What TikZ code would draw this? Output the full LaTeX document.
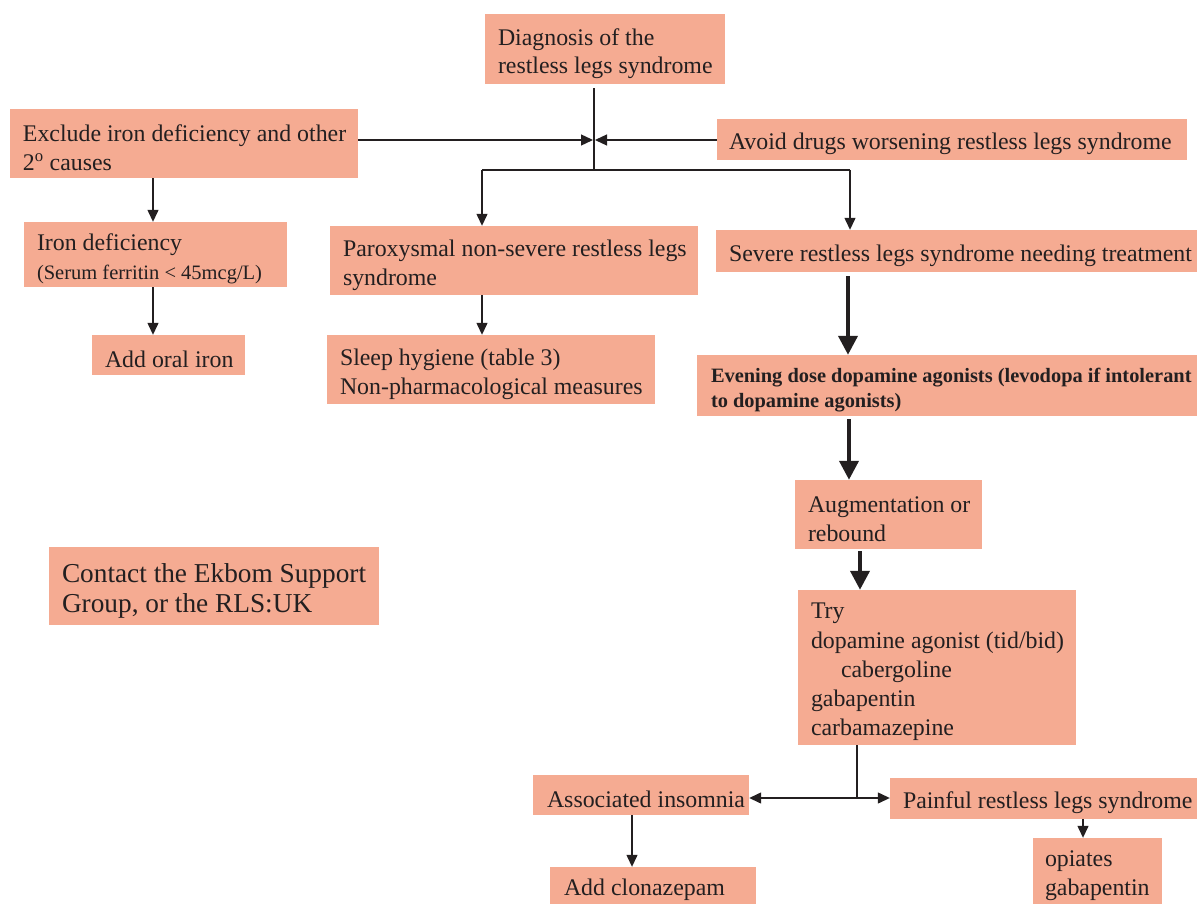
\documentclass[tikz,border=0pt]{standalone}
\usepackage{fontspec}
\setmainfont{Liberation Serif}
\usetikzlibrary{arrows.meta}
\definecolor{boxfill}{RGB}{245,171,146}
\definecolor{ink}{RGB}{35,31,32}
\begin{document}
\begin{tikzpicture}[x=1pt,y=-1pt,
  box/.style={fill=boxfill, draw=none, inner sep=0pt},
  txt/.style={anchor=west, align=left, inner sep=0pt, yshift=-4.5pt, text=ink, font=\fontsize{23.85}{28.6}\selectfont},
  conn/.style={draw=ink, line width=1.3pt},
  arr/.style={conn, -{Triangle[length=12pt,width=11pt]}},
  bigarr/.style={draw=ink, line width=4pt, -{Triangle[length=19pt,width=19pt]}}]
\useasboundingbox (0,0) rectangle (1197,904);

% boxes
\node[box, minimum width=240pt, minimum height=70pt] (diag) at (605,49) {};
\node[txt] at ([xshift=13pt]diag.west) {Diagnosis of the\\restless legs syndrome};

\node[box, minimum width=348pt, minimum height=69pt] (excl) at (184,143.5) {};
\node[txt] at ([xshift=13pt]excl.west) {Exclude iron deficiency and other\\2\textsuperscript{o} causes};

\node[box, minimum width=470pt, minimum height=41pt] (avoid) at (952,139.5) {};
\node[txt] at ([xshift=12pt]avoid.west) {Avoid drugs worsening restless legs syndrome};

\node[box, minimum width=263pt, minimum height=65pt] (iron) at (155.5,254.5) {};
\node[txt] at ([xshift=13pt]iron.west) {Iron deficiency\\{\fontsize{20.5}{24}\selectfont (Serum ferritin < 45mcg/L)}};

\node[box, minimum width=153pt, minimum height=40pt] (oral) at (168.5,355) {};
\node[txt] at ([xshift=13pt]oral.west) {Add oral iron};

\node[box, minimum width=368pt, minimum height=69pt] (parox) at (514,260.5) {};
\node[txt] at ([xshift=13pt]parox.west) {Paroxysmal non-severe restless legs\\syndrome};

\node[box, minimum width=481pt, minimum height=42pt] (sev) at (956.5,251) {};
\node[txt] at ([xshift=13pt]sev.west) {Severe restless legs syndrome needing treatment};

\node[box, minimum width=328pt, minimum height=69pt] (sleep) at (491,369.5) {};
\node[txt] at ([xshift=13pt]sleep.west) {Sleep hygiene (table 3)\\Non-pharmacological measures};

\node[box, minimum width=500pt, minimum height=61pt] (even) at (947,385.5) {};
\node[txt, font=\bfseries\fontsize{20.4}{25}\selectfont] at ([xshift=14pt]even.west) {Evening dose dopamine agonists (levodopa if intolerant\\to dopamine agonists)};

\node[box, minimum width=187pt, minimum height=69pt] (aug) at (888.5,514.5) {};
\node[txt] at ([xshift=13pt]aug.west) {Augmentation or\\rebound};

\node[box, minimum width=330pt, minimum height=78pt] (contact) at (214,586) {};
\node[txt, font=\fontsize{27.3}{30}\selectfont] at ([xshift=13pt]contact.west) {Contact the Ekbom Support\\Group, or the RLS:UK};

\node[box, minimum width=278pt, minimum height=155pt] (try) at (937,667.5) {};
\node[txt, font=\fontsize{23.85}{29.2}\selectfont] at ([xshift=13pt]try.west) {Try\\dopamine agonist (tid/bid)\\\hspace*{30pt}cabergoline\\gabapentin\\carbamazepine};

\node[box, minimum width=216pt, minimum height=40pt] (insom) at (641,795) {};
\node[txt] at ([xshift=14pt]insom.west) {Associated insomnia};

\node[box, minimum width=307pt, minimum height=41pt] (pain) at (1043.5,798.5) {};
\node[txt] at ([xshift=13pt]pain.west) {Painful restless legs syndrome};

\node[box, minimum width=206pt, minimum height=37pt] (clon) at (653,885.5) {};
\node[txt] at ([xshift=14pt]clon.west) {Add clonazepam};

\node[box, minimum width=129pt, minimum height=66pt] (opi) at (1097.5,871) {};
\node[txt] at ([xshift=12pt]opi.west) {opiates\\gabapentin};

% junction coordinates
\coordinate (jc) at (594,170);
\coordinate (jl) at (482,170);
\coordinate (jr) at (850,170);
\coordinate (jm) at (594,140);
\coordinate (xa) at (153,0);
\coordinate (xb) at (482,0);
\coordinate (xc) at (848,0);
\coordinate (xd) at (849,0);
\coordinate (xe) at (860,0);
\coordinate (xf) at (857,0);
\coordinate (jb) at (857,798);
\coordinate (xg) at (632,0);
\coordinate (xh) at (1083,0);

% connectors
\draw[conn] ([yshift=-4pt]jc |- diag.south) -- (jc);
\draw[conn] (jl) -- (jr);
\draw[arr] (excl.east |- jm) -- ([xshift=-1pt]jm);
\draw[arr] (avoid.west |- jm) -- ([xshift=1pt]jm);
\draw[arr] (jl) -- (jl |- parox.north);
\draw[arr] (jr) -- (jr |- sev.north);
\draw[arr] (excl.south -| xa) -- (iron.north -| xa);
\draw[arr] (iron.south -| xa) -- (oral.north -| xa);
\draw[arr] (parox.south -| xb) -- (sleep.north -| xb);
\draw[bigarr] ([yshift=-4pt]sev.south -| xc) -- (even.north -| xc);
\draw[bigarr] ([yshift=-3pt]even.south -| xd) -- (aug.north -| xd);
\draw[bigarr] ([yshift=-2pt]aug.south -| xe) -- (try.north -| xe);
\draw[conn] (try.south -| xf) -- (jb);
\draw[arr] (jb) -- (insom.east |- jb);
\draw[arr] (jb) -- (pain.west |- jb);
\draw[arr] (insom.south -| xg) -- (clon.north -| xg);
\draw[arr] (pain.south -| xh) -- (opi.north -| xh);
\end{tikzpicture}
\end{document}
